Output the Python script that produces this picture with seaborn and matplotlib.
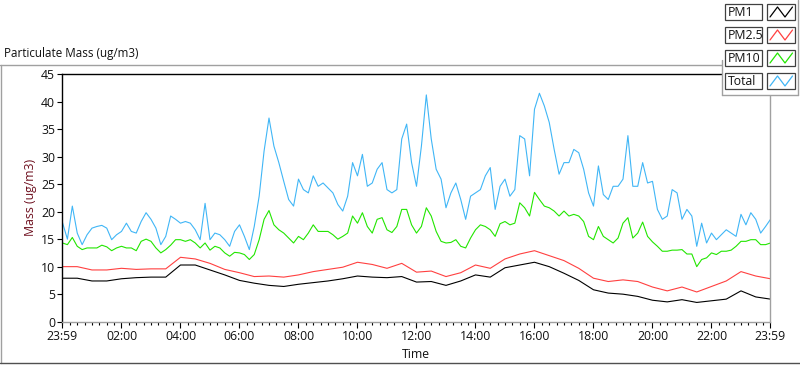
import numpy as np
import pandas as pd
import matplotlib
matplotlib.use("Agg")
import matplotlib.pyplot as plt
import seaborn as sns
from matplotlib.lines import Line2D
from matplotlib.patches import Rectangle
from matplotlib.ticker import MultipleLocator

# ---------------- data (hours since midnight) ----------------
t_fine = np.arange(0, 24 * 60 + 1, 10) / 60.0      # 10-minute samples
t_coarse = np.arange(0, 24 * 60 + 1, 30) / 60.0    # 30-minute samples

total = [
    18.0, 15.0, 21.0, 16.1, 14.0, 15.8, 17.0, 17.3, 17.5, 17.0, 14.9, 15.8, 16.4, 17.9, 16.4,
    16.1, 18.2, 19.8, 18.6, 17.0, 14.0, 15.5, 19.2, 18.6, 17.9, 18.2, 17.9, 16.7, 14.9, 21.5,
    14.9, 16.1, 15.8, 14.9, 13.7, 16.4, 17.6, 15.5, 13.1, 17.3, 22.8, 31.0, 37.0, 31.9, 28.9,
    25.5, 22.2, 21.0, 25.9, 24.0, 23.4, 26.5, 24.6, 25.2, 24.3, 23.4, 21.3, 20.1, 22.8,
    28.9, 26.5, 30.4, 24.6, 25.2, 27.7, 28.9, 24.0, 23.4, 24.0, 33.2, 35.9, 28.9, 24.6, 31.9,
    41.2, 33.2, 27.7, 25.9, 20.7, 23.4, 25.2, 22.2, 18.6, 22.8, 23.4, 24.0,
    26.5, 28.0, 20.4, 24.6, 25.9, 22.8, 24.0, 33.8, 33.2, 26.5, 38.6, 41.5, 39.2, 36.2, 31.3,
    26.8, 28.9, 28.9, 31.3, 30.7, 27.7, 23.4, 21.0, 28.3, 23.1, 22.2, 24.6, 24.6, 25.9,
    33.8, 24.6, 24.6, 28.9, 25.2, 25.5, 20.4, 18.6, 19.2, 24.0, 23.4, 18.6, 20.4, 19.2, 13.7,
    17.9, 14.3, 16.1, 14.9, 15.8, 16.7, 16.1, 15.5, 19.5, 17.6, 19.8, 18.6, 16.1, 17.3, 18.6,
]

pm10 = [
    14.3, 14.0, 15.3, 13.7, 13.1, 13.4, 13.4, 13.4, 13.9, 13.6, 12.9, 13.4, 13.7, 13.4, 13.4,
    12.9, 14.6, 15.0, 14.6, 13.4, 12.5, 13.1, 13.9, 14.9, 14.9, 14.6, 14.9, 14.3, 13.4, 14.3,
    13.0, 13.7, 13.4, 12.5, 11.9, 12.6, 12.5, 12.2, 11.3, 12.2, 14.9, 18.6, 20.2, 17.6, 16.7,
    16.1, 15.2, 14.3, 15.5, 14.9, 16.1, 17.6, 16.4, 16.4, 16.4, 15.8, 15.0, 15.5, 16.1,
    19.2, 17.9, 19.8, 17.3, 16.1, 18.6, 18.9, 16.7, 16.2, 17.3, 20.4, 20.4, 17.6, 16.1, 17.3,
    20.7, 19.2, 16.4, 14.6, 14.3, 14.4, 14.9, 13.7, 13.4, 15.2, 16.7, 17.6,
    17.3, 16.7, 15.5, 17.8, 18.2, 17.6, 17.9, 21.6, 20.7, 19.2, 23.5, 22.2, 21.0, 20.7, 20.1,
    19.2, 20.1, 19.2, 19.5, 19.2, 18.2, 15.5, 14.9, 17.3, 15.5, 14.9, 14.3, 15.2, 17.9,
    18.9, 15.2, 16.1, 18.1, 15.5, 14.5, 13.7, 12.8, 12.8, 13.0, 13.0, 13.1, 12.3, 12.3, 10.0,
    11.3, 11.6, 12.5, 12.2, 12.8, 12.8, 13.0, 13.7, 14.6, 14.6, 14.9, 14.9, 14.0, 14.0, 14.3,
]

pm25 = [
    10.0, 10.0, 9.4, 9.4, 9.7, 9.5, 9.6, 9.6, 11.7, 11.4, 10.6, 9.5, 8.9, 8.2, 8.3, 8.1, 8.5,
    9.1, 9.5, 9.9, 10.8, 10.4, 9.7, 10.6, 9.0, 9.2, 8.2, 8.9, 10.3, 9.7, 11.4, 12.3, 12.9,
    12.0, 11.1, 9.7, 7.9, 7.3, 7.6, 7.3, 6.3, 5.6, 6.3, 5.4, 6.4, 7.4, 9.1, 8.3, 7.8,
]

pm1 = [
    7.9, 7.9, 7.4, 7.4, 7.8, 8.0, 8.1, 8.1, 10.3, 10.3, 9.4, 8.5, 7.5, 7.0, 6.6, 6.4, 6.8,
    7.1, 7.4, 7.8, 8.3, 8.1, 8.0, 8.2, 7.2, 7.3, 6.6, 7.4, 8.5, 8.1, 9.8, 10.3, 10.8,
    10.0, 8.8, 7.5, 5.8, 5.2, 5.0, 4.6, 3.9, 3.6, 4.0, 3.5, 3.8, 4.1, 5.6, 4.5, 4.1,
]

series_names = ["PM1", "PM2.5", "PM10", "Total"]
series_colors = ["#000000", "#ff4040", "#22e600", "#40b6f6"]
x_tick_pos = [-1 / 60, 2, 4, 6, 8, 10, 12, 14, 16, 18, 20, 22, 24 - 1 / 60]
x_tick_labels = ["23:59", "02:00", "04:00", "06:00", "08:00", "10:00", "12:00",
                 "14:00", "16:00", "18:00", "20:00", "22:00", "23:59"]
y_ticks = [0, 5, 10, 15, 20, 25, 30, 35, 40, 45]

# ---------------- build long-form frame ----------------
frames = [
    pd.DataFrame({"t": t_coarse, "v": pm1, "series": "PM1"}),
    pd.DataFrame({"t": t_coarse, "v": pm25, "series": "PM2.5"}),
    pd.DataFrame({"t": t_fine, "v": pm10, "series": "PM10"}),
    pd.DataFrame({"t": t_fine, "v": total, "series": "Total"}),
]
df = pd.concat(frames, ignore_index=True)

sns.set_theme(style="white")
plt.rcParams["font.family"] = ["Open Sans", "DejaVu Sans"]

W, H = 800, 365
def fx(x):
    return x / W
def fy(y):
    return 1 - y / H

fig = plt.figure(figsize=(W / 100, H / 100), dpi=100)
fig.patch.set_facecolor("white")
ax = fig.add_axes([fx(62), fy(321.7), 708 / W, 247.7 / H])

palette = dict(zip(series_names, series_colors))
sns.lineplot(data=df, x="t", y="v", hue="series", hue_order=series_names,
             palette=palette, estimator=None, legend=False, linewidth=0.8, ax=ax)

ax.set_xlim(-1 / 60, 24 - 1 / 60)
ax.set_ylim(0, 45)
ax.set_xticks(x_tick_pos)
ax.set_xticklabels(x_tick_labels)
ax.xaxis.set_minor_locator(MultipleLocator(0.25))
ax.set_yticks(y_ticks)
ax.set_yticklabels([str(v) for v in y_ticks])

for side in ["left", "top"]:
    ax.spines[side].set_color("black")
    ax.spines[side].set_linewidth(1.0)
for side in ["bottom", "right"]:
    ax.spines[side].set_color("#a0a0a0")
    ax.spines[side].set_linewidth(1.0)

ax.tick_params(axis="y", direction="out", length=3.5, width=0.8, color="black",
               labelsize=8.8, pad=1.5, labelcolor="#111111", left=True)
ax.tick_params(axis="x", which="major", direction="out", length=4, width=0.8,
               color="black", labelsize=8.8, pad=2, labelcolor="#111111", bottom=True)
ax.tick_params(axis="x", which="minor", direction="out", length=2.5, width=0.8,
               color="black", bottom=True)

ax.set_xlabel("Time", fontsize=8.8, color="#111111")
ax.xaxis.set_label_coords(0.5, -0.105)
ax.set_ylabel("Mass (ug/m3)", fontsize=8.8, color="#6e0f1e")
ax.yaxis.set_label_coords(-0.036, 0.5)

# title
fig.text(fx(4), fy(54), "Particulate Mass (ug/m3)", ha="left", va="center",
         fontsize=8.4, color="#111111")

# outer frame lines
frame_col = "#a0a0a0"
fig.add_artist(Line2D([fx(0), fx(722)], [fy(65), fy(65)], color=frame_col, lw=1.0,
                      transform=fig.transFigure))
fig.add_artist(Line2D([fx(0.5), fx(0.5)], [fy(65), fy(363)], color=frame_col, lw=1.0,
                      transform=fig.transFigure))
fig.add_artist(Line2D([fx(0), fx(800)], [fy(363), fy(363)], color="#505050", lw=1.0,
                      transform=fig.transFigure))

# legend panel (covers top-right of plot)
fig.add_artist(Rectangle((fx(722), fy(95)), 76 / W, 95 / H, transform=fig.transFigure,
                         facecolor="white", edgecolor="none", zorder=5))
fig.add_artist(Line2D([fx(797.5), fx(797.5)], [fy(0), fy(95)], color=frame_col, lw=1.0,
                      transform=fig.transFigure, zorder=6))
fig.add_artist(Line2D([fx(722), fx(797.5)], [fy(95), fy(95)], color=frame_col, lw=1.0,
                      transform=fig.transFigure, zorder=6))
fig.add_artist(Line2D([fx(722), fx(722)], [fy(60), fy(95)], color=frame_col, lw=1.0,
                      transform=fig.transFigure, zorder=6))

row_tops = [4, 27, 50, 73]
for name, col, top in zip(series_names, series_colors, row_tops):
    fig.add_artist(Rectangle((fx(725), fy(top + 16)), 37 / W, 16 / H,
                             transform=fig.transFigure, facecolor="white",
                             edgecolor="#404040", lw=0.9, zorder=7))
    fig.text(fx(727.5), fy(top + 8.5), name, ha="left", va="center", fontsize=8.8,
             color="#111111", zorder=8)
    fig.add_artist(Rectangle((fx(767), fy(top + 16)), 28 / W, 16 / H,
                             transform=fig.transFigure, facecolor="white",
                             edgecolor="#404040", lw=0.9, zorder=7))
    zx = [770, 777.5, 785, 792.5]
    zy = [top + 13, top + 3, top + 13, top + 3]
    fig.add_artist(Line2D([fx(v) for v in zx], [fy(v) for v in zy], color=col, lw=0.9,
                          transform=fig.transFigure, zorder=8))

fig.savefig("out.png", dpi=100, facecolor="white")
